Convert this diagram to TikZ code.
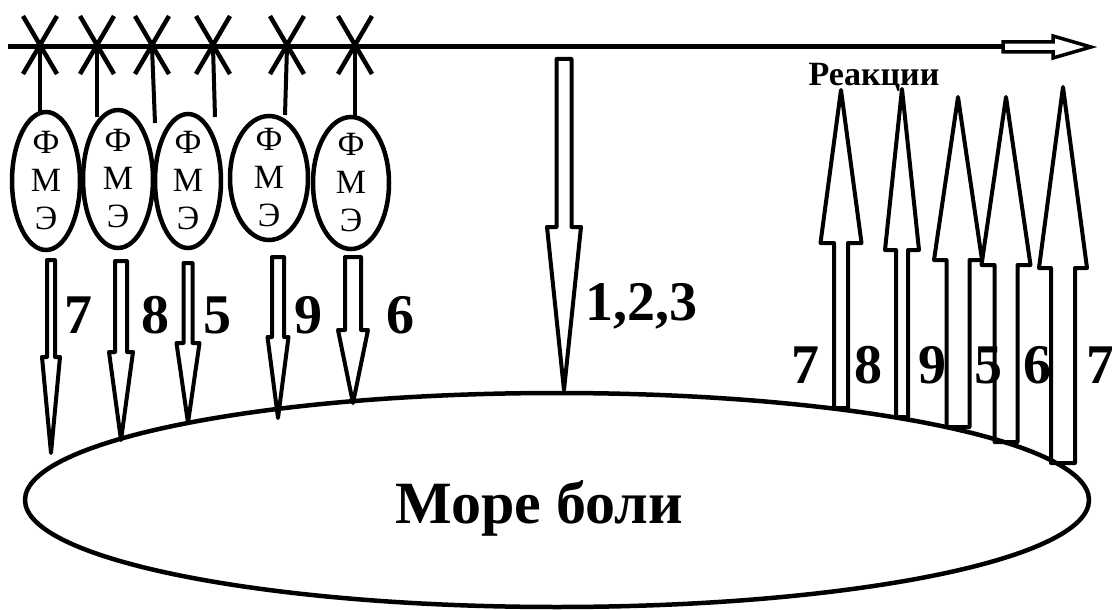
\documentclass[tikz,border=0pt]{standalone}
\usepackage{fontspec}
\setmainfont{Liberation Serif}
\usetikzlibrary{shapes.geometric}

\tikzset{
  blk/.style={draw, line width=4pt, line join=round},
  fme/.style={ellipse, draw, line width=4.5pt, inner sep=0pt,
    label={[fmeletters]center:Ф\\М\\Э}},
  fmeletters/.style={font=\fontsize{34}{38}\selectfont, align=center, inner sep=0pt},
  num/.style={font=\fontsize{56}{56}\selectfont\bfseries, inner sep=0pt, anchor=base},
}

\begin{document}
\begin{tikzpicture}[x=1pt, y=-1pt]
    \useasboundingbox (0,0) rectangle (1112,610);

    % ось реакций
    \coordinate (start) at (8,47);
    \coordinate (axisend) at (1003,47);
    \draw[line width=5pt] (start) -- (axisend);
    \draw[line width=3.5pt] (axisend) ++(0,-5) -- (1053,42) -- (1053,36) -- (1091,47)
        -- (1053,58) -- (1053,52) -- (1003,52) -- cycle;
    \node[font=\fontsize{34}{34}\selectfont\bfseries, inner sep=0pt, anchor=base] (react) at (874,85) {Реакции};

    % ФМЭ
    \node[fme, minimum width=68pt, minimum height=138pt] (e1) at (46,181) {};
    \node[fme, minimum width=70pt, minimum height=138pt] (e2) at (118,179) {};
    \node[fme, minimum width=66pt, minimum height=134pt] (e3) at (188,181) {};
    \node[fme, minimum width=78pt, minimum height=124pt] (e4) at (269,178) {};
    \node[fme, minimum width=76pt, minimum height=132pt] (e5) at (351,183) {};

    % перечёркнутые связи
    \foreach \cx/\ex/\ey [count=\i] in {40/40/111, 97/97/117, 152/155/123, 213/215/117, 287/285/115, 355/355/117} {
        \coordinate (k\i) at (\cx,47);
        \coordinate (s\i) at (\ex,\ey);
        \draw[line width=4.5pt] (\cx-17,16) -- (\cx+17,74) (\cx+17,16) -- (\cx-17,74);
        \draw[line width=4pt] (k\i) -- (s\i);
    }

    % море боли
    \node[ellipse, draw, line width=4.5pt, inner sep=0pt, minimum width=1064pt, minimum height=214pt] (sea) at (557,500) {};
    \node[font=\fontsize{60}{60}\selectfont\bfseries, inner sep=0pt, anchor=base] (seatext) at (539,523) {Море боли};

    % стрелки вниз
    \foreach \x/\a/\h/\t/\sw/\hw [count=\i] in {51/260/357/453/4/9, 121/261/352/440/6/12, 188/263/343/423/4.5/11.5,
        278/257/337/418/6/10.5, 353/257/330/403/8/15, 564/59/227/390/7.5/17} {
        \draw[blk] (\x-\sw,\a) -- (\x+\sw,\a) -- (\x+\sw,\h) -- (\x+\hw,\h) -- (\x,\t)
            -- (\x-\hw,\h) -- (\x-\sw,\h) -- cycle;
    }
    \foreach \n/\lx [count=\i] in {7/78, 8/155, 5/217, 9/308, 6/400}
        \node[num] (dn\i) at (\lx,333) {\n};
    \node[num, anchor=base west] (lab123) at (585,320) {1,2,3};

    % стрелки вверх
    \foreach \n/\lx [count=\i] in {7/805, 8/868, 9/932, 5/988, 6/1037, 7/1100}
        \node[num] (un\i) at (\lx,383) {\n};
    \foreach \x/\a/\h/\t/\sw/\hw [count=\i] in {841/408/243/90/7/20.5, 902/417/250/89/6/17, 958/427/260/97/11.5/24,
        1006/442/265/97/11.5/24.5, 1063/463/268/87/12/24} {
        \draw[blk] (\x-\sw,\a) -- (\x+\sw,\a) -- (\x+\sw,\h) -- (\x+\hw,\h) -- (\x,\t)
            -- (\x-\hw,\h) -- (\x-\sw,\h) -- cycle;
    }
\end{tikzpicture}
\end{document}
